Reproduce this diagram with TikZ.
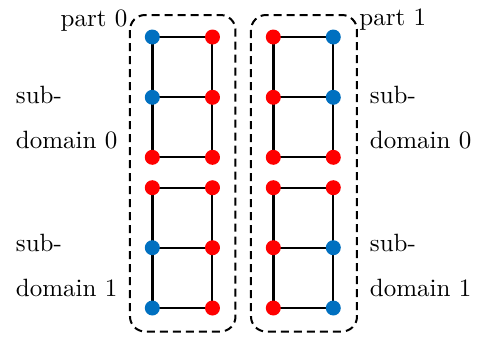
\documentclass[tikz,border=0pt]{standalone}
\usetikzlibrary{backgrounds}
\definecolor{dotblue}{RGB}{0,112,192}
\definecolor{dotred}{RGB}{255,0,0}
\begin{document}
\begin{tikzpicture}[x=0.4pt,y=-0.4pt,
  vb/.style={circle,fill=dotblue,inner sep=0pt,minimum size=6pt},
  vr/.style={circle,fill=dotred,inner sep=0pt,minimum size=6pt},
  hedge/.style={line width=0.8pt},
  thickedge/.style={line width=1.15pt},
  thinedge/.style={line width=0.8pt},
  partbox/.style={draw,dashed,dash pattern=on 3.2pt off 2pt,line width=0.8pt,rounded corners=6pt},
  lbl/.style={inner sep=0pt,font=\normalsize}]
\useasboundingbox (0,0) rectangle (482,336);
% part boxes
\draw[partbox] (130,15) rectangle (235.5,331.5);
\draw[partbox] (251,15) rectangle (357,331.5);
% left part nodes
\node[vb] (La1) at (152.3,37) {};
\node[vr] (Lb1) at (212.5,37) {};
\node[vb] (La2) at (152.3,97.3) {};
\node[vr] (Lb2) at (212.5,97.3) {};
\node[vr] (La3) at (152.3,157.3) {};
\node[vr] (Lb3) at (212.5,157.3) {};
\node[vr] (La4) at (152.3,187.7) {};
\node[vr] (Lb4) at (212.5,187.7) {};
\node[vb] (La5) at (152.3,247.7) {};
\node[vr] (Lb5) at (212.5,247.7) {};
\node[vb] (La6) at (152.3,308) {};
\node[vr] (Lb6) at (212.5,308) {};
% right part nodes
\node[vr] (Ra1) at (273.3,37) {};
\node[vb] (Rb1) at (333.3,37) {};
\node[vr] (Ra2) at (273.3,97.3) {};
\node[vb] (Rb2) at (333.3,97.3) {};
\node[vr] (Ra3) at (273.3,157.3) {};
\node[vr] (Rb3) at (333.3,157.3) {};
\node[vr] (Ra4) at (273.3,187.7) {};
\node[vr] (Rb4) at (333.3,187.7) {};
\node[vr] (Ra5) at (273.3,247.7) {};
\node[vb] (Rb5) at (333.3,247.7) {};
\node[vr] (Ra6) at (273.3,308) {};
\node[vb] (Rb6) at (333.3,308) {};
% edges, behind the dots
\begin{scope}[on background layer]
\foreach \p in {L,R}{
  \foreach \i in {1,...,6}{
    \draw[hedge] (\p a\i.center) -- (\p b\i.center);
  }
  \draw[thickedge] (\p a1.center) -- (\p a2.center) -- (\p a3.center);
  \draw[thickedge] (\p a4.center) -- (\p a5.center) -- (\p a6.center);
  \draw[thinedge] (\p b1.center) -- (\p b2.center) -- (\p b3.center);
  \draw[thinedge] (\p b4.center) -- (\p b5.center) -- (\p b6.center);
}
\end{scope}
% labels
\node[lbl,anchor=base east] (p0) at (128,26) {part 0};
\node[lbl,anchor=base west] (p1) at (359,25) {part 1};
\node[lbl,anchor=base west] (s0l) at (15.5,103) {sub-};
\node[lbl,anchor=base west] (d0l) at (15.5,148) {domain 0};
\node[lbl,anchor=base west] (s1l) at (15.5,251.5) {sub-};
\node[lbl,anchor=base west] (d1l) at (15.5,296.5) {domain 1};
\node[lbl,anchor=base west] (s0r) at (369.5,103) {sub-};
\node[lbl,anchor=base west] (d0r) at (369.5,148) {domain 0};
\node[lbl,anchor=base west] (s1r) at (369.5,251.5) {sub-};
\node[lbl,anchor=base west] (d1r) at (369.5,296.5) {domain 1};
\end{tikzpicture}
\end{document}
